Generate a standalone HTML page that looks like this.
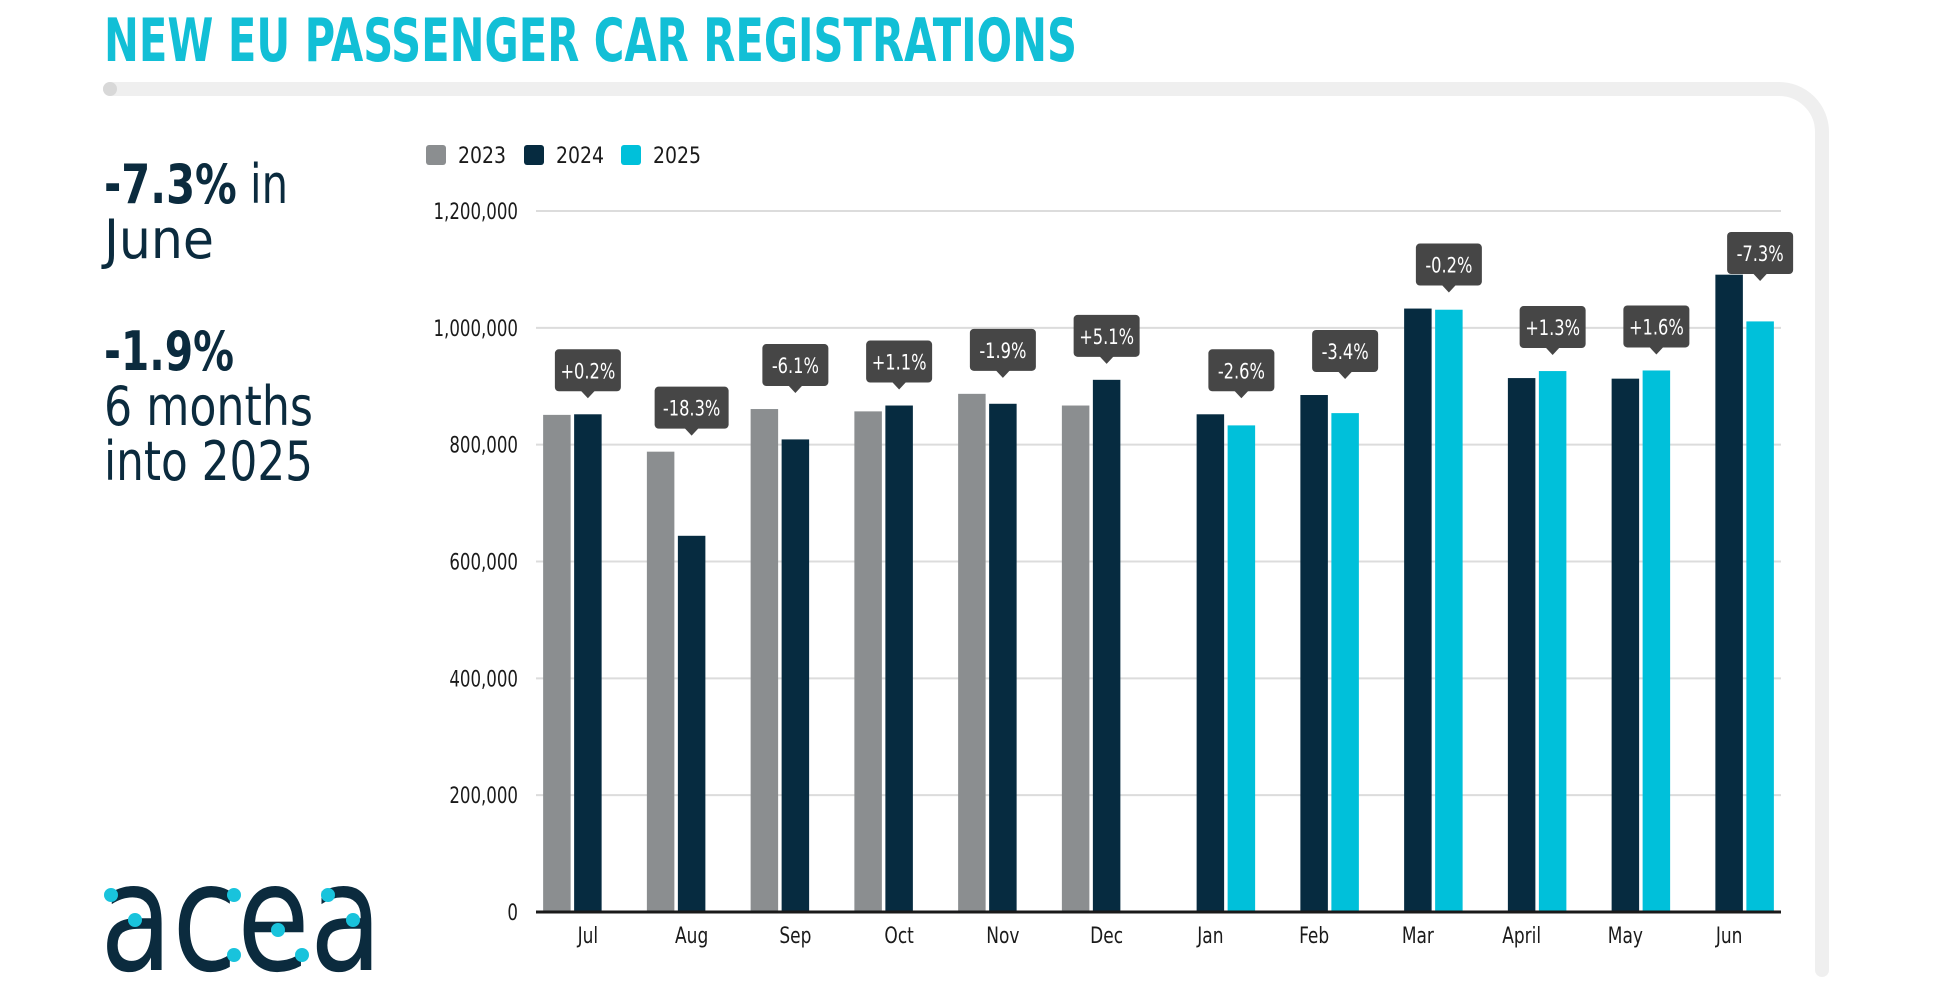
<!DOCTYPE html>
<html><head><meta charset="utf-8"><style>
html,body{margin:0;padding:0;background:#fff}
svg{display:block}
text{font-family:"Liberation Sans Narrow","DejaVu Sans Condensed","Liberation Sans",sans-serif}
</style></head><body>
<svg id="chart" width="1951" height="1002" viewBox="0 0 1951 1002" xmlns="http://www.w3.org/2000/svg">
<text x="104" y="61" font-size="60" fill="#12bfd6" font-weight="bold" textLength="973" lengthAdjust="spacingAndGlyphs">NEW EU PASSENGER CAR REGISTRATIONS</text>
<path d="M110 89 H1779 A43 43 0 0 1 1822 132 V970" fill="none" stroke="#efefef" stroke-width="14" stroke-linecap="round"/>
<circle cx="110" cy="89" r="7" fill="#d8d8d8"/>
<g fill="#0b2b3e">
<text x="104" y="203" font-size="54" textLength="184" lengthAdjust="spacingAndGlyphs"><tspan font-weight="bold">-7.3%</tspan> in</text>
<text x="104" y="258" font-size="54" textLength="110" lengthAdjust="spacingAndGlyphs">June</text>
<text x="104" y="370" font-size="54" font-weight="bold" textLength="130" lengthAdjust="spacingAndGlyphs">-1.9%</text>
<text x="104" y="425" font-size="54" textLength="209" lengthAdjust="spacingAndGlyphs">6 months</text>
<text x="104" y="480" font-size="54" textLength="209" lengthAdjust="spacingAndGlyphs">into 2025</text>
</g>
<g>
<text x="100" y="970" font-size="150" fill="#0b2b3e" font-family="DejaVu Sans" textLength="282" lengthAdjust="spacingAndGlyphs">acea</text>
<circle cx="111" cy="895" r="7" fill="#19c3dc"/><circle cx="135" cy="920" r="7" fill="#19c3dc"/>
<circle cx="234" cy="895" r="7" fill="#19c3dc"/><circle cx="234" cy="955" r="7" fill="#19c3dc"/>
<circle cx="278" cy="930" r="7" fill="#19c3dc"/><circle cx="302" cy="955" r="7" fill="#19c3dc"/>
<circle cx="328" cy="895" r="7" fill="#19c3dc"/><circle cx="353" cy="920" r="7" fill="#19c3dc"/>
</g>
<g>
<rect x="426" y="145" width="20" height="20" rx="3" fill="#8b8e90"/>
<text x="458" y="163" font-size="22" fill="#1a1a1a" textLength="48" lengthAdjust="spacingAndGlyphs">2023</text>
<rect x="524" y="145" width="20" height="20" rx="3" fill="#062b40"/>
<text x="556" y="163" font-size="22" fill="#1a1a1a" textLength="48" lengthAdjust="spacingAndGlyphs">2024</text>
<rect x="621" y="145" width="20" height="20" rx="3" fill="#00c0da"/>
<text x="653" y="163" font-size="22" fill="#1a1a1a" textLength="48" lengthAdjust="spacingAndGlyphs">2025</text>
</g>
<g id="grid"></g><g id="bars"></g><g id="callouts"></g><g id="axes"></g>
</svg>
<script>
const categories=["Jul","Aug","Sep","Oct","Nov","Dec","Jan","Feb","Mar","April","May","Jun"];
const values2023=[851000,788000,861000,857000,887000,867000,null,null,null,null,null,null];
const values2024=[852000,644000,809000,867000,870000,911000,852000,885000,1033000,914000,913000,1091000];
const values2025=[null,null,null,null,null,null,833000,854000,1031000,926000,927000,1011000];
const changeLabels=["+0.2%","-18.3%","-6.1%","+1.1%","-1.9%","+5.1%","-2.6%","-3.4%","-0.2%","+1.3%","+1.6%","-7.3%"];
const yTicks=[0,200000,400000,600000,800000,1000000,1200000];
const yTickLabels=["0","200,000","400,000","600,000","800,000","1,000,000","1,200,000"];
const NS="http://www.w3.org/2000/svg";
const X0=536,X1=1781,Y0=912,Y1=211,YMAX=1200000;
const band=(X1-X0)/categories.length;
function y(v){return Y0-(v/YMAX)*(Y0-Y1);}
function cx(i){return X0+(i+0.5)*band;}
function mk(tag,attrs,parent){const e=document.createElementNS(NS,tag);for(const k in attrs)e.setAttribute(k,attrs[k]);parent.appendChild(e);return e;}
const grid=document.getElementById('grid'),bars=document.getElementById('bars'),cal=document.getElementById('callouts'),axes=document.getElementById('axes');
yTicks.forEach((t,i)=>{
 if(t>0){const l=mk('line',{x1:X0,x2:X1,y1:y(t),y2:y(t),stroke:'#dcdcdc','stroke-width':2},grid);
 
 }
 const tx=mk('text',{x:0,y:0,transform:`translate(518 ${y(t)+8}) scale(0.84 1)`,'text-anchor':'end','font-size':22,fill:'#1a1a1a'},axes);
 tx.textContent=yTickLabels[i];
 
 
});
const al=mk('line',{x1:X0,x2:X1,y1:Y0,y2:Y0,stroke:'#1a1a1a','stroke-width':3},axes);


const BW=27.5,STEP=31;
const series=[[values2023,'#8b8e90',-1,'bar-2023'],[values2024,'#062b40',0,'bar-2024'],[values2025,'#00c0da',1,'bar-2025']];
categories.forEach((c,i)=>{
 series.forEach(s=>{const v=s[0][i];if(v==null)return;
  const r=mk('rect',{x:cx(i)+s[2]*STEP-BW/2,y:y(v),width:BW,height:Y0-y(v),fill:s[1]},bars);
  
  
 });
 const lt=mk('text',{x:0,y:0,transform:`translate(${cx(i)} 943) scale(0.86 1)`,'text-anchor':'middle','font-size':22,fill:'#1a1a1a'},axes);
 lt.textContent=c;
 
 
 let tgt,other,off;
 if(values2025[i]!=null){tgt=values2025[i];other=values2024[i];off=1;}else{tgt=values2024[i];other=values2023[i];off=0;}
 const px=cx(i)+off*STEP;
 let tip=Math.min(y(tgt),y(other))-16;
 tip=Math.max(tip,Y1+70);
 const w=changeLabels[i].length>5?74:66,h=42;
 const g=mk('g',{},cal);
 
 
 mk('rect',{x:px-w/2,y:tip-7-h,width:w,height:h,rx:4,fill:'#464646'},g);
 mk('path',{d:`M${px-7} ${tip-7.5} L${px} ${tip} L${px+7} ${tip-7.5}Z`,fill:'#464646'},g);
 const ct=mk('text',{x:0,y:0,transform:`translate(${px} ${tip-7-h/2+8}) scale(0.86 1)`,'text-anchor':'middle','font-size':21,fill:'#fff'},g);
 ct.textContent=changeLabels[i];
});
</script>
</body></html>
